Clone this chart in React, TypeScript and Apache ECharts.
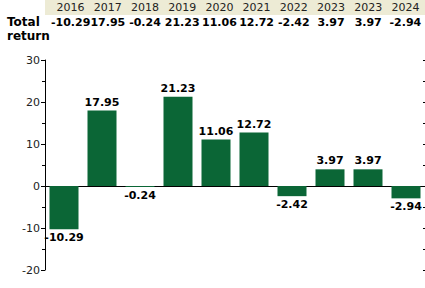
import React, { useEffect, useRef } from "react";
import * as echarts from "echarts";

const years = ["2016", "2017", "2018", "2019", "2020", "2021", "2022", "2023", "2023", "2024"];
const totalReturn = [-10.29, 17.95, -0.24, 21.23, 11.06, 12.72, -2.42, 3.97, 3.97, -2.94];
const yMin = -20;
const yMax = 30;
const yInterval = 10;
const rowTitle = "Total\nreturn";

const FONT = "DejaVu Sans";
const BAR = "#0b6636";

export default function App() {
  const ref = useRef<HTMLDivElement>(null);
  useEffect(() => {
    if (!ref.current) return;
    const chart = echarts.init(ref.current, undefined, { renderer: "svg" });
    const valueLabels = totalReturn.map((v) => v.toFixed(2));
    chart.setOption({
      animation: false,
      textStyle: { fontFamily: FONT },
      title: {
        text: rowTitle,
        left: 2,
        top: 10,
        textStyle: { fontFamily: FONT, fontSize: 12, fontWeight: "bold", color: "#000", lineHeight: 14 },
      },
      graphic: [
        { type: "rect", shape: { x: 45, y: 0, width: 380, height: 15 }, style: { fill: "#edebd5" }, z: -1 },
      ],
      grid: [
        { left: 45, right: 0, top: 60, bottom: 18 },
        { left: 52, right: 1, top: 15, height: 1 },
      ],
      xAxis: [
        {
          type: "category",
          gridIndex: 0,
          data: years,
          axisLine: { onZero: true, lineStyle: { color: "#000", width: 1 } },
          axisTick: { show: false },
          axisLabel: { show: false },
        },
        {
          type: "category",
          gridIndex: 1,
          position: "top",
          data: years,
          axisLine: { show: false },
          axisTick: { show: false },
          axisLabel: { interval: 0, hideOverlap: false, margin: 2, fontSize: 11, color: "#222", fontFamily: FONT, lineHeight: 12 },
        },
        {
          type: "category",
          gridIndex: 1,
          position: "bottom",
          data: valueLabels,
          axisLine: { show: false },
          axisTick: { show: false },
          axisLabel: { interval: 0, hideOverlap: false, margin: 0, fontSize: 11, fontWeight: "bold", color: "#000", fontFamily: FONT, lineHeight: 12 },
        },
      ],
      yAxis: [
        {
          type: "value",
          gridIndex: 0,
          min: yMin,
          max: yMax,
          interval: yInterval,
          axisLine: { show: true, lineStyle: { color: "#000" } },
          axisTick: { show: true, length: 4, lineStyle: { color: "#000" } },
          minorTick: { show: true, splitNumber: 2, length: 3, lineStyle: { color: "#000" } },
          splitLine: { show: false },
          axisLabel: { fontSize: 11, color: "#222", margin: 5, fontFamily: FONT },
        },
        {
          type: "value",
          gridIndex: 0,
          min: yMin,
          max: yMax,
          interval: yInterval,
          axisLine: { show: false },
          axisTick: { show: true, inside: true, length: 2, lineStyle: { color: "#000" } },
          minorTick: { show: true, splitNumber: 2, length: 2, lineStyle: { color: "#000" } },
          splitLine: { show: false },
          axisLabel: { show: false },
        },
        {
          type: "value",
          gridIndex: 1,
          show: false,
        },
      ],
      series: [
        {
          type: "bar",
          xAxisIndex: 0,
          yAxisIndex: 0,
          barWidth: 29,
          data: totalReturn.map((v) => ({
            value: v,
            label: { position: v >= 0 ? "top" : "bottom" },
          })),
          itemStyle: { color: BAR },
          label: {
            show: true,
            distance: 3,
            formatter: (p: any) => Number(p.value).toFixed(2),
            fontFamily: FONT,
            fontSize: 11,
            fontWeight: "bold",
            color: "#000",
          },
        },
      ],
    });
    return () => chart.dispose();
  }, []);
  return <div ref={ref} style={{ width: 425, height: 288, position: "absolute", left: 0, top: 0, background: "#fff" }} />;
}
